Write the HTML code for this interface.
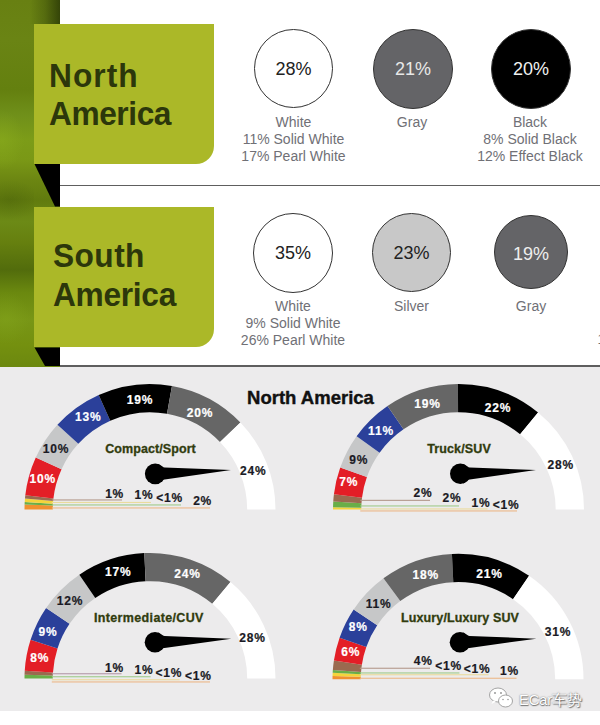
<!DOCTYPE html>
<html><head><meta charset="utf-8">
<style>
html,body{margin:0;padding:0;}
body{width:600px;height:725px;overflow:hidden;position:relative;background:#fff;font-family:"Liberation Sans",sans-serif;}
.abs{position:absolute;}
#top{left:0;top:0;width:600px;height:367px;background:#fff;}
#strip{left:0;top:0;width:60px;height:367px;background:linear-gradient(180deg,#688012 0px,#6a8414 40px,#64800f 90px,#70901a 115px,#7c9c18 140px,#7a9816 160px,#6c8612 180px,#617b0e 200px,#6c8a16 222px,#66800f 242px,#526c0c 270px,#6a880f 292px,#789616 320px,#74900f 345px,#6c880f 367px);}
#stripshade{left:30px;top:0;width:30px;height:24px;background:linear-gradient(90deg,rgba(40,55,5,0) 0,rgba(40,55,5,0.3) 50%,rgba(35,48,5,0.75) 100%);}
.gbox{left:34px;width:180px;background:#abb828;border-bottom-right-radius:18px;}
.gbox .t{position:absolute;color:#2c370b;font-weight:bold;font-size:33px;line-height:39px;transform:scaleX(0.96);transform-origin:0 0;white-space:nowrap;}
.hl{left:60px;width:540px;height:1.5px;background:#5e5e5e;}
.circ{position:absolute;border-radius:50%;box-sizing:border-box;border:1.5px solid #333;}
.ct{position:absolute;font-size:18px;text-align:center;width:100px;margin-left:-50px;line-height:20px;}
.lab{position:absolute;font-size:14px;color:#707076;text-align:center;width:140px;margin-left:-70px;line-height:17px;white-space:nowrap;}
#bot{left:0;top:367px;width:600px;height:358px;background:#ecebec;}
svg text{font-family:"Liberation Sans",sans-serif;font-weight:bold;}
.gl{font-size:12px;text-anchor:middle;stroke-width:0.2px;letter-spacing:0.8px;}
.gt{font-size:12.5px;text-anchor:middle;fill:#313c0e;stroke:#313c0e;stroke-width:0.3px;}
.gb{font-size:12px;text-anchor:end;fill:#1a1a24;stroke:#1a1a24;stroke-width:0.2px;letter-spacing:0.8px;}
</style></head><body>
<div id="top" class="abs"></div>
<div id="strip" class="abs"></div>
<div id="stripshade" class="abs"></div>
<div class="abs" style="left:0;top:0;width:34px;height:367px;background:radial-gradient(ellipse 22px 30px at 2px 140px,rgba(140,175,30,0.45),rgba(140,175,30,0) 100%),radial-gradient(ellipse 30px 20px at 10px 200px,rgba(40,60,5,0.18),rgba(40,60,5,0) 100%),radial-gradient(ellipse 24px 26px at 6px 318px,rgba(135,170,28,0.35),rgba(135,170,28,0) 100%);"></div>
<svg class="abs" style="left:0;top:0" width="60" height="367">
 <polygon points="34.5,164 60,164 60,206.5 55,206.5" fill="#000"/>
 <polygon points="34.5,347.5 60,347.5 60,366 45,366" fill="#000"/>
</svg>
<div class="abs hl" style="top:184.5px"></div>
<div class="abs hl" style="top:365px"></div>

<div class="abs gbox" style="top:23.5px;height:140px;">
  <div class="t" style="left:14.5px;top:32px;letter-spacing:1.1px;">North</div><div class="t" style="left:15px;top:70.5px;letter-spacing:-0.45px;">America</div>
</div>
<div class="abs gbox" style="top:206.5px;height:140.5px;">
  <div class="t" style="left:18.5px;top:29px;letter-spacing:0.45px;">South</div><div class="t" style="left:18.5px;top:68px;letter-spacing:-0.3px;">America</div>
</div>

<!-- row 1 circles -->
<div class="circ" style="left:254px;top:29px;width:79px;height:79px;background:#fff;"></div>
<div class="ct" style="left:293.5px;top:59px;color:#222;">28%</div>
<div class="lab" style="left:293.5px;top:114px;">White<br>11% Solid White<br>17% Pearl White</div>

<div class="circ" style="left:373px;top:29px;width:80px;height:80px;background:#646467;border-color:#333;"></div>
<div class="ct" style="left:413px;top:59px;color:#e8e8e8;">21%</div>
<div class="lab" style="left:412px;top:114px;">Gray</div>

<div class="circ" style="left:491px;top:29px;width:80px;height:80px;background:#000;"></div>
<div class="ct" style="left:531px;top:59px;color:#f0f0f0;">20%</div>
<div class="lab" style="left:530px;top:114px;">Black<br>8% Solid Black<br>12% Effect Black</div>

<!-- row 2 circles -->
<div class="circ" style="left:253px;top:213px;width:80px;height:80px;background:#fff;"></div>
<div class="ct" style="left:293px;top:243px;color:#222;">35%</div>
<div class="lab" style="left:293px;top:298px;">White<br>9% Solid White<br>26% Pearl White</div>

<div class="circ" style="left:372px;top:213px;width:79px;height:79px;background:#c8c8c8;"></div>
<div class="ct" style="left:411.5px;top:243px;color:#222;">23%</div>
<div class="lab" style="left:411.5px;top:298px;">Silver</div>

<div class="circ" style="left:493.5px;top:214.5px;width:74.5px;height:74.5px;background:#646467;"></div>
<div class="ct" style="left:531px;top:244px;color:#eee;">19%</div>
<div class="lab" style="left:531px;top:298px;">Gray</div>
<div class="lab" style="left:601.5px;top:331px;">1</div>

<div id="bot" class="abs"></div>
<svg class="abs" style="left:0;top:0" width="600" height="725">
<text x="310.5" y="404" style="font-size:18.5px;text-anchor:middle;fill:#111;stroke:#111;stroke-width:0.4px;">North America</text>
<path d="M24.50,509.50 A125.5,125.5 0 0 1 24.60,504.38 L52.88,505.53 A97.2,97.2 0 0 0 52.80,509.50 Z" fill="#ef912f"/>
<path d="M24.60,504.38 A125.5,125.5 0 0 1 24.72,502.01 L52.97,503.70 A97.2,97.2 0 0 0 52.88,505.53 Z" fill="#69ae48"/>
<path d="M24.72,502.01 A125.5,125.5 0 0 1 24.99,498.47 L53.18,500.96 A97.2,97.2 0 0 0 52.97,503.70 Z" fill="#f4d43c"/>
<path d="M24.99,498.47 A125.5,125.5 0 0 1 25.30,495.34 L53.42,498.53 A97.2,97.2 0 0 0 53.18,500.96 Z" fill="#9a6a4f"/>
<path d="M25.30,495.34 A125.5,125.5 0 0 1 35.78,457.50 L61.54,469.22 A97.2,97.2 0 0 0 53.42,498.53 Z" fill="#e31e26"/>
<path d="M35.78,457.50 A125.5,125.5 0 0 1 57.44,424.75 L78.31,443.86 A97.2,97.2 0 0 0 61.54,469.22 Z" fill="#c6c7c8"/>
<path d="M57.44,424.75 A125.5,125.5 0 0 1 98.71,394.96 L110.28,420.79 A97.2,97.2 0 0 0 78.31,443.86 Z" fill="#2b409a"/>
<path d="M98.71,394.96 A125.5,125.5 0 0 1 171.97,385.94 L167.01,413.80 A97.2,97.2 0 0 0 110.28,420.79 Z" fill="#000000"/>
<path d="M171.97,385.94 A125.5,125.5 0 0 1 240.40,422.45 L220.01,442.08 A97.2,97.2 0 0 0 167.01,413.80 Z" fill="#666666"/>
<path d="M240.40,422.45 A125.5,125.5 0 0 1 275.50,509.50 L247.20,509.50 A97.2,97.2 0 0 0 220.01,442.08 Z" fill="#ffffff"/>
<rect x="51.8" y="499.4" width="70.2" height="1.1" fill="#b49a8c"/>
<rect x="51.8" y="501.9" width="99.2" height="1.1" fill="#eadb9c"/>
<rect x="51.8" y="504.4" width="129.2" height="1.1" fill="#9fcb8a"/>
<rect x="51.8" y="507.4" width="158.2" height="1.1" fill="#ecb888"/>
<g transform="translate(155.2,473.85)"><circle r="10.3" fill="#000"/><path d="M3,-9.85 Q6.5,-6.6 9.5,-6.35 L75.80000000000001,-3.8500000000000227 L9.5,5.65 Q6.5,5.9 3,9.85 Z" fill="#000"/></g>
<text x="42.7" y="483" fill="#ffffff" stroke="#ffffff" class="gl">10%</text>
<text x="56" y="452.6" fill="#1a1a24" stroke="#1a1a24" class="gl">10%</text>
<text x="88.2" y="420.8" fill="#ffffff" stroke="#ffffff" class="gl">13%</text>
<text x="140" y="403.6" fill="#ffffff" stroke="#ffffff" class="gl">19%</text>
<text x="200" y="416.5" fill="#ffffff" stroke="#ffffff" class="gl">20%</text>
<text x="253.3" y="475.2" fill="#1a1a24" stroke="#1a1a24" class="gl">24%</text>
<text x="150.54" y="452.5" class="gt" style="letter-spacing:0.08px">Compact/Sport</text>
<text x="124.1" y="497.5" class="gb">1%</text>
<text x="153.5" y="499.2" class="gb">1%</text>
<text x="183.0" y="501.8" class="gb">&lt;1%</text>
<text x="212.1" y="505.2" class="gb">2%</text>
<path d="M333.00,509.50 A125.5,125.5 0 0 1 333.02,507.29 L361.32,507.79 A97.2,97.2 0 0 0 361.30,509.50 Z" fill="#f4d43c"/>
<path d="M333.02,507.29 A125.5,125.5 0 0 1 333.26,501.38 L361.50,503.21 A97.2,97.2 0 0 0 361.32,507.79 Z" fill="#69ae48"/>
<path d="M333.26,501.38 A125.5,125.5 0 0 1 333.92,494.32 L362.01,497.74 A97.2,97.2 0 0 0 361.50,503.21 Z" fill="#9a6a4f"/>
<path d="M333.92,494.32 A125.5,125.5 0 0 1 340.23,467.51 L366.90,476.98 A97.2,97.2 0 0 0 362.01,497.74 Z" fill="#e31e26"/>
<path d="M340.23,467.51 A125.5,125.5 0 0 1 356.64,436.18 L379.61,452.71 A97.2,97.2 0 0 0 366.90,476.98 Z" fill="#c6c7c8"/>
<path d="M356.64,436.18 A125.5,125.5 0 0 1 387.50,406.01 L403.51,429.35 A97.2,97.2 0 0 0 379.61,452.71 Z" fill="#2b409a"/>
<path d="M387.50,406.01 A125.5,125.5 0 0 1 457.95,384.00 L458.07,412.30 A97.2,97.2 0 0 0 403.51,429.35 Z" fill="#666666"/>
<path d="M457.95,384.00 A125.5,125.5 0 0 1 538.07,412.45 L520.13,434.33 A97.2,97.2 0 0 0 458.07,412.30 Z" fill="#000000"/>
<path d="M538.07,412.45 A125.5,125.5 0 0 1 584.00,509.50 L555.70,509.50 A97.2,97.2 0 0 0 520.13,434.33 Z" fill="#ffffff"/>
<rect x="360.3" y="499.8" width="69.7" height="1.1" fill="#b49a8c"/>
<rect x="360.3" y="505.4" width="98.7" height="1.1" fill="#9fcb8a"/>
<rect x="360.3" y="508.4" width="127.2" height="1.1" fill="#eadb9c"/>
<rect x="360.3" y="510.4" width="156.7" height="1.1" fill="#ecb888"/>
<g transform="translate(460.3,473.8)"><circle r="10.3" fill="#000"/><path d="M3,-9.85 Q6.5,-6.6 9.5,-6.35 L75.69999999999999,-3.8000000000000114 L9.5,5.65 Q6.5,5.9 3,9.85 Z" fill="#000"/></g>
<text x="348.7" y="486" fill="#ffffff" stroke="#ffffff" class="gl">7%</text>
<text x="358.7" y="463.8" fill="#1a1a24" stroke="#1a1a24" class="gl">9%</text>
<text x="381" y="435.2" fill="#ffffff" stroke="#ffffff" class="gl">11%</text>
<text x="427.5" y="408" fill="#ffffff" stroke="#ffffff" class="gl">19%</text>
<text x="498" y="411.8" fill="#ffffff" stroke="#ffffff" class="gl">22%</text>
<text x="560.7" y="469.3" fill="#1a1a24" stroke="#1a1a24" class="gl">28%</text>
<text x="459.075" y="452.6" class="gt" style="letter-spacing:0.15px">Truck/SUV</text>
<text x="432.5" y="496.6" class="gb">2%</text>
<text x="461.5" y="502" class="gb">2%</text>
<text x="490.5" y="507" class="gb">1%</text>
<text x="519.5" y="509" class="gb">&lt;1%</text>
<path d="M24.50,678.40 A125.5,125.5 0 0 1 24.55,674.69 L52.84,675.53 A97.2,97.2 0 0 0 52.80,678.40 Z" fill="#69ae48"/>
<path d="M24.55,674.69 A125.5,125.5 0 0 1 24.74,670.68 L52.98,672.42 A97.2,97.2 0 0 0 52.84,675.53 Z" fill="#9a6a4f"/>
<path d="M24.74,670.68 A125.5,125.5 0 0 1 30.59,639.77 L57.52,648.48 A97.2,97.2 0 0 0 52.98,672.42 Z" fill="#e31e26"/>
<path d="M30.59,639.77 A125.5,125.5 0 0 1 46.11,607.99 L69.54,623.87 A97.2,97.2 0 0 0 57.52,648.48 Z" fill="#2b409a"/>
<path d="M46.11,607.99 A125.5,125.5 0 0 1 79.33,574.69 L95.26,598.08 A97.2,97.2 0 0 0 69.54,623.87 Z" fill="#c6c7c8"/>
<path d="M79.33,574.69 A125.5,125.5 0 0 1 144.32,553.03 L145.60,581.30 A97.2,97.2 0 0 0 95.26,598.08 Z" fill="#000000"/>
<path d="M144.32,553.03 A125.5,125.5 0 0 1 230.48,582.10 L212.33,603.82 A97.2,97.2 0 0 0 145.60,581.30 Z" fill="#666666"/>
<path d="M230.48,582.10 A125.5,125.5 0 0 1 275.50,678.40 L247.20,678.40 A97.2,97.2 0 0 0 212.33,603.82 Z" fill="#ffffff"/>
<rect x="51.8" y="673.2" width="69.7" height="1.1" fill="#b49aa8"/>
<rect x="51.8" y="676.2" width="98.8" height="1.1" fill="#9fcb8a"/>
<rect x="51.8" y="679.2" width="127.9" height="1.1" fill="#eadb9c"/>
<rect x="51.8" y="681.4" width="158.2" height="1.1" fill="#ecb888"/>
<g transform="translate(155,642.25)"><circle r="10.3" fill="#000"/><path d="M3,-9.85 Q6.5,-6.6 9.5,-6.35 L76.30000000000001,-3.5499999999999545 L9.5,5.65 Q6.5,5.9 3,9.85 Z" fill="#000"/></g>
<text x="39.7" y="662.3" fill="#ffffff" stroke="#ffffff" class="gl">8%</text>
<text x="48" y="636.3" fill="#ffffff" stroke="#ffffff" class="gl">9%</text>
<text x="70" y="605.3" fill="#1a1a24" stroke="#1a1a24" class="gl">12%</text>
<text x="118.2" y="576.3" fill="#ffffff" stroke="#ffffff" class="gl">17%</text>
<text x="187.5" y="578.3" fill="#ffffff" stroke="#ffffff" class="gl">24%</text>
<text x="252.5" y="642.3" fill="#1a1a24" stroke="#1a1a24" class="gl">28%</text>
<text x="148.875" y="622.3" class="gt" style="letter-spacing:0.35px">Intermediate/CUV</text>
<text x="124.0" y="671.5" class="gb">1%</text>
<text x="153.5" y="673.8" class="gb">1%</text>
<text x="182.2" y="676.8" class="gb">&lt;1%</text>
<text x="211.8" y="679.6" class="gb">&lt;1%</text>
<path d="M332.50,679.30 A125.5,125.5 0 0 1 332.54,675.99 L360.83,676.74 A97.2,97.2 0 0 0 360.80,679.30 Z" fill="#ef912f"/>
<path d="M332.54,675.99 A125.5,125.5 0 0 1 332.67,672.68 L360.94,674.17 A97.2,97.2 0 0 0 360.83,676.74 Z" fill="#f4d43c"/>
<path d="M332.67,672.68 A125.5,125.5 0 0 1 332.85,669.96 L361.07,672.07 A97.2,97.2 0 0 0 360.94,674.17 Z" fill="#69ae48"/>
<path d="M332.85,669.96 A125.5,125.5 0 0 1 333.90,660.60 L361.88,664.82 A97.2,97.2 0 0 0 361.07,672.07 Z" fill="#9a6a4f"/>
<path d="M333.90,660.60 A125.5,125.5 0 0 1 339.60,637.68 L366.30,647.07 A97.2,97.2 0 0 0 361.88,664.82 Z" fill="#e31e26"/>
<path d="M339.60,637.68 A125.5,125.5 0 0 1 353.67,609.54 L377.20,625.27 A97.2,97.2 0 0 0 366.30,647.07 Z" fill="#2b409a"/>
<path d="M353.67,609.54 A125.5,125.5 0 0 1 383.47,578.33 L400.28,601.10 A97.2,97.2 0 0 0 377.20,625.27 Z" fill="#c6c7c8"/>
<path d="M383.47,578.33 A125.5,125.5 0 0 1 451.93,553.95 L453.30,582.21 A97.2,97.2 0 0 0 400.28,601.10 Z" fill="#666666"/>
<path d="M451.93,553.95 A125.5,125.5 0 0 1 529.06,575.86 L513.04,599.18 A97.2,97.2 0 0 0 453.30,582.21 Z" fill="#000000"/>
<path d="M529.06,575.86 A125.5,125.5 0 0 1 583.50,679.30 L555.20,679.30 A97.2,97.2 0 0 0 513.04,599.18 Z" fill="#ffffff"/>
<rect x="359.8" y="667.7" width="70.2" height="1.1" fill="#b49a8c"/>
<rect x="359.8" y="672.4" width="99.6" height="1.1" fill="#9fcb8a"/>
<rect x="359.8" y="674.2" width="128.8" height="1.1" fill="#eadb9c"/>
<rect x="359.8" y="677.7" width="156.7" height="1.1" fill="#ecb888"/>
<g transform="translate(460,642.25)"><circle r="10.3" fill="#000"/><path d="M3,-9.85 Q6.5,-6.6 9.5,-6.35 L76.29999999999995,-3.5499999999999545 L9.5,5.65 Q6.5,5.9 3,9.85 Z" fill="#000"/></g>
<text x="350.7" y="656" fill="#ffffff" stroke="#ffffff" class="gl">6%</text>
<text x="358.2" y="631" fill="#ffffff" stroke="#ffffff" class="gl">8%</text>
<text x="378.7" y="608" fill="#1a1a24" stroke="#1a1a24" class="gl">11%</text>
<text x="425.7" y="578.8" fill="#ffffff" stroke="#ffffff" class="gl">18%</text>
<text x="489.5" y="577.5" fill="#ffffff" stroke="#ffffff" class="gl">21%</text>
<text x="558" y="636" fill="#1a1a24" stroke="#1a1a24" class="gl">31%</text>
<text x="460.06" y="622.3" class="gt" style="letter-spacing:0.12px">Luxury/Luxury SUV</text>
<text x="432.8" y="664.8" class="gb">4%</text>
<text x="461.9" y="669.5" class="gb">&lt;1%</text>
<text x="490.5" y="673" class="gb">&lt;1%</text>
<text x="519.0" y="675.3" class="gb">1%</text>
</svg>
<div class="abs" style="left:0;top:711px;width:600px;height:14px;background:#fff;"></div>
<svg class="abs" style="left:485px;top:685px" width="32" height="28">
 <g fill="#fff" stroke="#9a9a9a" stroke-width="0.9">
  <ellipse cx="13" cy="10" rx="8.5" ry="7"/>
  <path d="M8,15.5 L6.5,19 L11,16.5 Z" stroke="none"/>
  <ellipse cx="20.5" cy="16" rx="7" ry="6"/>
 </g>
 <g fill="#9a9a9a"><circle cx="10" cy="8" r="1"/><circle cx="16" cy="8" r="1"/><circle cx="18" cy="14.5" r="0.8"/><circle cx="23" cy="14.5" r="0.8"/></g>
</svg>
<div class="abs" style="left:519px;top:691.5px;font-size:14.5px;line-height:17px;color:#fff;text-shadow:0 0 1.5px #666,0.5px 0.5px 1px #777;white-space:nowrap;">ECar车势</div>
</body></html>
